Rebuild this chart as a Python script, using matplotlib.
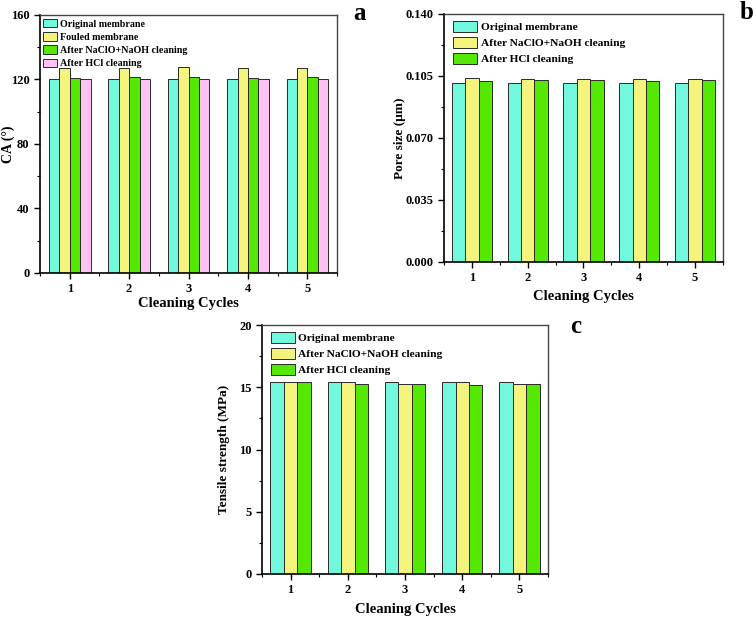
import matplotlib
matplotlib.use("Agg")
import matplotlib.pyplot as plt
import numpy as np
from matplotlib.ticker import MultipleLocator

plt.rcParams['font.family'] = ['Liberation Serif', 'DejaVu Serif']
plt.rcParams['font.weight'] = 'bold'

cycles = [1, 2, 3, 4, 5]
cycle_labels = ['1', '2', '3', '4', '5']

# Panel a: contact angle
ca_original = [120.0, 120.0, 120.0, 120.0, 120.0]
ca_fouled = [127.0, 127.2, 128.0, 127.0, 127.0]
ca_naclo = [121.0, 121.5, 121.5, 121.0, 121.5]
ca_hcl = [120.5, 120.0, 120.5, 120.5, 120.0]

# Panel b: pore size
ps_original = [0.1012, 0.1012, 0.1012, 0.1012, 0.1012]
ps_naclo = [0.1038, 0.1033, 0.1034, 0.1034, 0.1031]
ps_hcl = [0.1023, 0.1025, 0.1025, 0.1023, 0.1025]

# Panel c: tensile strength
ts_original = [15.45, 15.45, 15.45, 15.45, 15.45]
ts_naclo = [15.45, 15.45, 15.30, 15.45, 15.30]
ts_hcl = [15.45, 15.30, 15.30, 15.22, 15.30]

C_CYAN = '#72F8DC'
C_YELLOW = '#F4F47C'
C_GREEN = '#55E800'
C_PINK = '#FFC2F2'
EDGE = '#2a2a2a'

fig = plt.figure(figsize=(7.56, 6.18), dpi=100)

def style_axes(ax, ymax, ymajor, ylabel, xlab_y, ylab_x, ylab_size=10, fmt=None):
    ax.set_xlim(0.5, 5.5)
    ax.set_ylim(0, ymax)
    ax.yaxis.set_major_locator(MultipleLocator(ymajor))
    ax.yaxis.set_minor_locator(MultipleLocator(ymajor / 2))
    ax.set_xticks(cycles)
    ax.set_xticklabels(cycle_labels)
    ax.xaxis.set_minor_locator(MultipleLocator(0.5))
    ax.tick_params(axis='both', which='major', direction='out', length=4, width=1,
                   labelsize=9, top=False, right=False)
    ax.tick_params(axis='both', which='minor', direction='out', length=2.5, width=0.8,
                   top=False, right=False)
    for lab in ax.get_xticklabels() + ax.get_yticklabels():
        lab.set_fontweight('bold')
    if fmt:
        ax.yaxis.set_major_formatter(fmt)
    for s in ['left', 'bottom']:
        ax.spines[s].set_color('black')
        ax.spines[s].set_linewidth(1.2)
    for s in ['top', 'right']:
        ax.spines[s].set_color('#444444')
        ax.spines[s].set_linewidth(1.0)
    ax.set_ylabel(ylabel, fontsize=ylab_size, fontweight='bold')
    ax.set_xlabel('Cleaning Cycles', fontsize=10.5, fontweight='bold')
    ax.xaxis.set_label_coords(0.5, xlab_y)
    ax.yaxis.set_label_coords(ylab_x, 0.5)

def add_legend(ax, fs, hl, hh, ls, anchor):
    leg = ax.legend(loc='upper left', bbox_to_anchor=anchor, frameon=False,
                    fontsize=fs, handlelength=hl, handleheight=hh, handletextpad=0.3,
                    labelspacing=ls, borderaxespad=0.0, borderpad=0.0)
    for t in leg.get_texts():
        t.set_fontweight('bold')
    return leg

x = np.array(cycles, dtype=float)

# ---- Panel a
ax_a = fig.add_axes([0.0529, 0.5583, 0.393, 0.4175])
w = 0.175
series_a = [(ca_original, C_CYAN, 'Original membrane'),
            (ca_fouled, C_YELLOW, 'Fouled membrane'),
            (ca_naclo, C_GREEN, 'After NaClO+NaOH cleaning'),
            (ca_hcl, C_PINK, 'After HCl cleaning')]
for i, (vals, col, lab) in enumerate(series_a):
    ax_a.bar(x + (i - 1.5) * w, vals, width=w, color=col, edgecolor=EDGE,
             linewidth=0.7, label=lab)
style_axes(ax_a, 160, 40, 'CA (°)', xlab_y=-0.095, ylab_x=-0.085)
add_legend(ax_a, 7.2, 1.4, 0.95, 0.35, (0.01, 0.985))
fig.text(0.476, 0.978, 'a', fontsize=18, fontweight='bold', ha='center', va='center')

fmt3 = matplotlib.ticker.FormatStrFormatter('%.3f')

# ---- Panel b
ax_b = fig.add_axes([0.5873, 0.5761, 0.369, 0.4013])
w = 0.24
series_b = [(ps_original, C_CYAN, 'Original membrane'),
            (ps_naclo, C_YELLOW, 'After NaClO+NaOH cleaning'),
            (ps_hcl, C_GREEN, 'After HCl cleaning')]
for i, (vals, col, lab) in enumerate(series_b):
    ax_b.bar(x + (i - 1) * w, vals, width=w, color=col, edgecolor=EDGE,
             linewidth=0.7, label=lab)
style_axes(ax_b, 0.140, 0.035, 'Pore size (μm)', xlab_y=-0.115, ylab_x=-0.135,
           ylab_size=9.5, fmt=fmt3)
add_legend(ax_b, 8.2, 2.1, 1.1, 0.4, (0.033, 0.972))
fig.text(0.988, 0.98, 'b', fontsize=18, fontweight='bold', ha='center', va='center')

# ---- Panel c
ax_c = fig.add_axes([0.3466, 0.0712, 0.3783, 0.4029])
w = 0.235
series_c = [(ts_original, C_CYAN, 'Original membrane'),
            (ts_naclo, C_YELLOW, 'After NaClO+NaOH cleaning'),
            (ts_hcl, C_GREEN, 'After HCl cleaning')]
for i, (vals, col, lab) in enumerate(series_c):
    ax_c.bar(x + (i - 1) * w, vals, width=w, color=col, edgecolor=EDGE,
             linewidth=0.7, label=lab)
style_axes(ax_c, 20, 5, 'Tensile strength (MPa)', xlab_y=-0.115, ylab_x=-0.112,
           ylab_size=9.5)
add_legend(ax_c, 8.2, 2.1, 1.1, 0.4, (0.03, 0.972))
fig.text(0.761, 0.472, 'c', fontsize=18, fontweight='bold', ha='center', va='center')

fig.savefig('out.png', dpi=100)
